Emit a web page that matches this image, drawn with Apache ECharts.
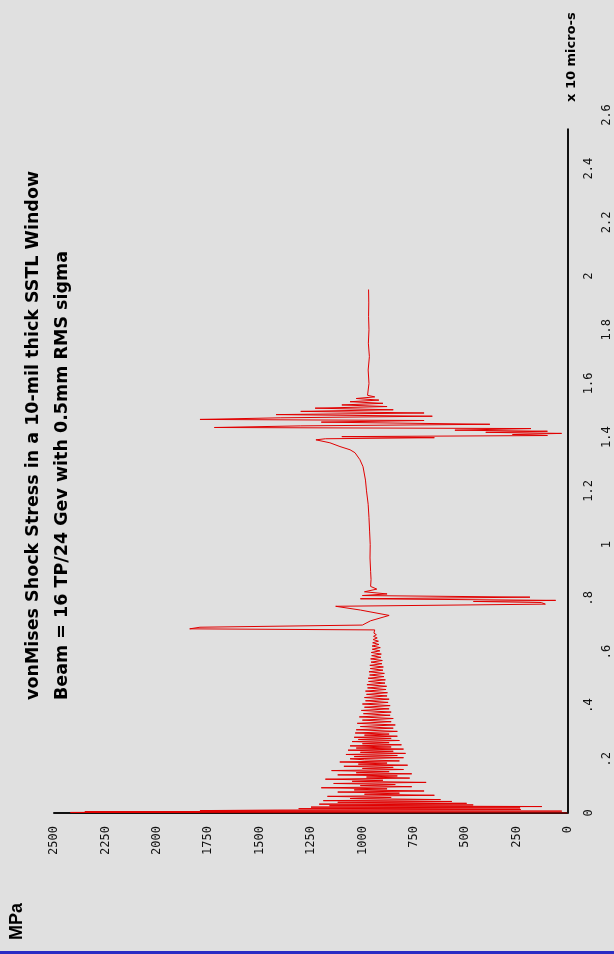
<!DOCTYPE html>
<html>
<head>
<meta charset="utf-8">
<title>vonMises Shock Stress</title>
<script src="https://cdn.jsdelivr.net/npm/echarts@6/dist/echarts.min.js"></script>
<style>
html, body { margin: 0; padding: 0; background: #e0e0e0; }
#chart { width: 614px; height: 954px; }
</style>
</head>
<body>
<div id="chart"></div>
<script>
// time in units of 10 micro-s, stress in MPa
var initialShock = [
    [0.000, 0], [0.002, 2420], [0.004, 1790], [0.005, 2350], [0.007, 30],
    [0.009, 1790], [0.011, 1415], [0.013, 230], [0.016, 1310], [0.019, 233],
    [0.022, 1250], [0.024, 127], [0.027, 1160], [0.030, 461], [0.033, 1210],
    [0.036, 493], [0.040, 1120], [0.043, 565]
];

var ringing = [
    [0.046, 1190], [0.050, 620], [0.054, 1060], [0.058, 860], [0.062, 1170],
    [0.066, 650], [0.070, 990], [0.074, 820], [0.078, 1120], [0.082, 700],
    [0.086, 1040], [0.090, 880], [0.094, 1200], [0.098, 760], [0.102, 1010],
    [0.106, 840], [0.110, 1140], [0.114, 690], [0.118, 1050], [0.122, 900],
    [0.126, 1180], [0.130, 770], [0.134, 980], [0.138, 830], [0.142, 1120],
    [0.146, 760], [0.150, 1030], [0.154, 870], [0.158, 1150], [0.162, 800],
    [0.166, 1000], [0.170, 850], [0.174, 1090], [0.178, 780], [0.182, 1020],
    [0.186, 880], [0.190, 1110], [0.194, 820], [0.198, 990], [0.202, 1060],
    [0.206, 800], [0.210, 1040], [0.214, 830], [0.218, 1080], [0.222, 790],
    [0.226, 1010], [0.230, 850], [0.234, 1070], [0.238, 800], [0.242, 1030],
    [0.246, 860], [0.250, 1060], [0.254, 810], [0.258, 1000], [0.262, 870],
    [0.266, 1050], [0.270, 820], [0.274, 1020], [0.278, 860], [0.282, 1040],
    [0.286, 830], [0.290, 990], [0.294, 870], [0.298, 1035], [0.304, 830],
    [0.310, 1030], [0.316, 850], [0.322, 1010], [0.328, 840], [0.334, 1025],
    [0.340, 860], [0.346, 1000], [0.352, 850], [0.358, 1015], [0.364, 865],
    [0.370, 995], [0.376, 860], [0.382, 1005], [0.388, 870], [0.394, 990],
    [0.400, 865], [0.406, 1000], [0.412, 875], [0.418, 985], [0.424, 870],
    [0.430, 990], [0.436, 880], [0.442, 980], [0.448, 878], [0.454, 985],
    [0.460, 885], [0.466, 975], [0.472, 882], [0.478, 978], [0.484, 890],
    [0.490, 970], [0.496, 888], [0.502, 972], [0.508, 895], [0.514, 965],
    [0.520, 893], [0.526, 968], [0.532, 900], [0.538, 962], [0.544, 898],
    [0.550, 964], [0.556, 905], [0.562, 958], [0.568, 903], [0.574, 960],
    [0.580, 910], [0.586, 955], [0.592, 908], [0.598, 957], [0.604, 915],
    [0.610, 952], [0.616, 913], [0.622, 953], [0.628, 920], [0.634, 950],
    [0.640, 922], [0.646, 948], [0.652, 928], [0.658, 946], [0.664, 932],
    [0.670, 944], [0.676, 938]
];

var firstSpike = [
    [0.682, 940], [0.686, 1840], [0.692, 1790], [0.700, 1000], [0.716, 960],
    [0.736, 870], [0.756, 1010], [0.770, 1130], [0.778, 110], [0.784, 130],
    [0.788, 460], [0.792, 60], [0.798, 1010], [0.804, 185], [0.810, 1000],
    [0.816, 880], [0.824, 990], [0.834, 930], [0.844, 960]
];

var plateau = [
    [0.870, 958], [0.900, 960], [0.950, 963], [1.000, 962],
    [1.050, 965], [1.100, 968], [1.150, 972], [1.200, 980], [1.240, 985],
    [1.290, 997], [1.316, 1012], [1.342, 1036], [1.353, 1060], [1.365, 1109],
    [1.379, 1158], [1.390, 1226]
];

var secondSpike = [
    [1.394, 1180], [1.398, 650], [1.402, 1100], [1.406, 100], [1.410, 270],
    [1.414, 31], [1.418, 400], [1.422, 100], [1.426, 550], [1.432, 180],
    [1.436, 1720], [1.442, 1300], [1.448, 380], [1.456, 1200], [1.462, 700],
    [1.466, 1790], [1.472, 1400], [1.478, 660], [1.484, 1420], [1.490, 700],
    [1.496, 1300], [1.502, 850], [1.508, 1230], [1.514, 880], [1.520, 1100],
    [1.526, 900], [1.532, 1060], [1.538, 920], [1.544, 1030], [1.550, 940],
    [1.556, 975]
];

var tail = [
    [1.600, 968], [1.650, 972], [1.700, 966], [1.750, 971], [1.800, 968],
    [1.850, 970], [1.900, 969], [1.950, 970]
];

var titleLines = [
    'vonMises Shock Stress in a 10-mil thick SSTL Window',
    'Beam = 16 TP/24 Gev with 0.5mm RMS sigma'
];

var stressMax = 2500;
var stressStep = 250;
var timeMax = 2.6;
var timeStep = 0.2;
var timeAxisEnd = 2.55;

function timeLabel(v) {
    var r = Math.round(v * 10) / 10;
    return String(r).replace(/^0\./, '.');
}

function timeIndex(v) {
    return Math.round(v / timeStep);
}

window.onload = function () {
    initStressChart();
};

var stressChart;
function initStressChart() {
    stressChart = echarts.init(document.getElementById('chart'));

    var points = [].concat(initialShock, ringing, firstSpike, plateau, secondSpike, tail)
        .map(function (p) { return [p[1], p[0]]; });

    var labelFont = {
        fontFamily: 'DejaVu Sans Mono',
        fontSize: 12,
        color: '#111'
    };

    var titleStyle = function (text, font) {
        return {
            text: text, font: font, fill: '#000',
            align: 'left', verticalAlign: 'middle',
            textAlign: 'left', textVerticalAlign: 'middle'
        };
    };

    var option = {
        backgroundColor: '#e0e0e0',
        animation: false,
        grid: { left: 54, right: 46, top: 115, bottom: 141 },
        xAxis: {
            type: 'value',
            inverse: true,
            min: 0,
            max: stressMax,
            interval: stressStep,
            axisLine: { show: true, lineStyle: { color: '#111', width: 2 } },
            axisTick: { show: false },
            splitLine: { show: false },
            axisLabel: Object.assign({
                rotate: 90,
                margin: 13,
                formatter: function (v) { return String(v); }
            }, labelFont)
        },
        yAxis: [
            {
                type: 'value',
                position: 'right',
                min: 0,
                max: timeMax,
                interval: timeStep,
                axisLine: { show: false },
                axisTick: { show: false },
                splitLine: { show: false },
                axisLabel: Object.assign({
                    rotate: 90,
                    margin: 15,
                    formatter: function (v) {
                        return timeIndex(v) % 2 === 0 ? timeLabel(v) : '';
                    }
                }, labelFont)
            },
            {
                type: 'value',
                position: 'right',
                min: 0,
                max: timeMax,
                interval: timeStep,
                axisLine: { show: false },
                axisTick: { show: false },
                splitLine: { show: false },
                axisLabel: Object.assign({
                    rotate: 90,
                    margin: 33,
                    formatter: function (v) {
                        return timeIndex(v) % 2 === 1 ? timeLabel(v) : '';
                    }
                }, labelFont)
            }
        ],
        series: [
            {
                name: 'vonMises',
                type: 'line',
                data: points,
                showSymbol: false,
                lineStyle: { color: '#e00000', width: 1 },
                markLine: {
                    silent: true,
                    symbol: 'none',
                    label: { show: false },
                    lineStyle: { color: '#111', width: 2, type: 'solid' },
                    data: [[{ coord: [0, 0] }, { coord: [0, timeAxisEnd] }]]
                }
            }
        ],
        graphic: [
            {
                type: 'text', x: 33, y: 700, rotation: Math.PI / 2,
                style: titleStyle(titleLines[0], 'bold 17.5px "DejaVu Sans"')
            },
            {
                type: 'text', x: 62, y: 700, rotation: Math.PI / 2,
                style: titleStyle(titleLines[1], 'bold 17.5px "DejaVu Sans"')
            },
            {
                type: 'text', x: 17, y: 940, rotation: Math.PI / 2,
                style: titleStyle('MPa', 'bold 18px "Liberation Sans"')
            },
            {
                type: 'text', x: 572, y: 102, rotation: Math.PI / 2,
                style: titleStyle('x 10 micro-s', 'bold 13px "DejaVu Sans"')
            },
            {
                type: 'rect', left: 0, bottom: 0,
                shape: { width: 614, height: 3 },
                style: { fill: '#2b2bc4' }
            }
        ]
    };

    stressChart.setOption(option);
}
</script>
</body>
</html>
